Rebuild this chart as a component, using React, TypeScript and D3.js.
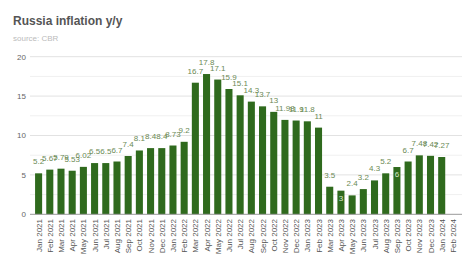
import React from "react";
import * as d3 from "d3";

const categories = [
  "Jan 2021","Feb 2021","Mar 2021","Apr 2021","May 2021","Jun 2021","Jul 2021","Aug 2021","Sep 2021","Oct 2021","Nov 2021","Dec 2021",
  "Jan 2022","Feb 2022","Mar 2022","Apr 2022","May 2022","Jun 2022","Jul 2022","Aug 2022","Sep 2022","Oct 2022","Nov 2022","Dec 2022",
  "Jan 2023","Feb 2023","Mar 2023","Apr 2023","May 2023","Jun 2023","Jul 2023","Aug 2023","Sep 2023","Oct 2023","Nov 2023","Dec 2023",
  "Jan 2024","Feb 2024",
];

const values: (number | null)[] = [
  5.2, 5.67, 5.79, 5.53, 6.02, 6.5, 6.5, 6.7, 7.4, 8.1, 8.4, 8.4,
  8.73, 9.2, 16.7, 17.8, 17.1, 15.9, 15.1, 14.3, 13.7, 13, 11.98, 11.9,
  11.8, 11, 3.5, 3, 2.4, 3.2, 4.3, 5.2, 6, 6.7, 7.48, 7.42,
  7.27, null,
];

const insideLabels = ["Apr 2023", "Sep 2023"];

const yTicks = [0, 5, 10, 15, 20];
const yMinorTicks = [2.5, 7.5, 12.5, 17.5];

const title = "Russia inflation y/y";
const subtitle = "source: CBR";

const W = 474;
const H = 265;
const FONT = "'Liberation Sans', Arial, sans-serif";

export default function App() {
  const x = d3.scaleBand<string>().domain(categories).range([33, 458.5]).paddingInner(0.37).paddingOuter(0.185);
  const y = d3.scaleLinear().domain([0, 20]).range([214.3, 56.7]);
  const gridX0 = 30;
  const gridX1 = 462;

  return (
    <svg width={W} height={H} style={{ position: "absolute", left: 0, top: 0, background: "#fff" }} fontFamily={FONT}>
      <rect width={W} height={H} fill="#fff" />
      <text x={13} y={25} fontSize={12} fontWeight="bold" fill="#555">{title}</text>
      <text x={13} y={41} fontSize={8} fill="#bbb">{subtitle}</text>

      {yMinorTicks.map((t) => (
        <line key={"m" + t} x1={gridX0} x2={gridX1} y1={y(t)} y2={y(t)} stroke="#f0f0f0" strokeWidth={1} />
      ))}
      {yTicks.map((t) => (
        <g key={"t" + t}>
          {t !== 0 && <line x1={gridX0} x2={gridX1} y1={y(t)} y2={y(t)} stroke="#e2e2e2" strokeWidth={1} />}
          <text x={26} y={y(t)} dy="0.35em" textAnchor="end" fontSize={8} fill="#666">{t}</text>
        </g>
      ))}

      {categories.map((c, i) => {
        const v = values[i];
        if (v == null) return null;
        const bx = x(c) as number;
        const bw = x.bandwidth();
        const top = y(v);
        const inside = insideLabels.includes(c);
        return (
          <g key={c}>
            <rect x={bx} y={top} width={bw} height={y(0) - top} fill="#2f6a1d" />
            <text
              x={bx + bw / 2}
              y={inside ? top + 10 : top - 9}
              textAnchor="middle"
              fontSize={8}
              fill={inside ? "#d8e8cc" : "#6b8a55"}
            >
              {String(v)}
            </text>
          </g>
        );
      })}

      <line x1={gridX0} x2={gridX1} y1={y(0)} y2={y(0)} stroke="#999" strokeWidth={1} />

      {categories.map((c) => {
        const cx = (x(c) as number) + x.bandwidth() / 2;
        return (
          <text
            key={"xl" + c}
            transform={`translate(${cx + 3},${219}) rotate(-90)`}
            textAnchor="end"
            fontSize={8}
            fill="#555"
          >
            {c}
          </text>
        );
      })}
    </svg>
  );
}
